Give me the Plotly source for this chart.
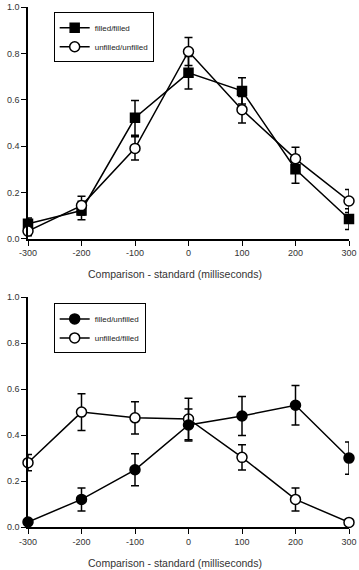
import plotly.graph_objects as go

x_vals = [-300, -200, -100, 0, 100, 200, 300]

# Top panel
ff_y = [0.065, 0.122, 0.522, 0.716, 0.638, 0.30, 0.085]
ff_err = [0.025, 0.04, 0.075, 0.07, 0.057, 0.06, 0.045]
uu_y = [0.033, 0.143, 0.39, 0.808, 0.557, 0.345, 0.163]
uu_err = [0.02, 0.04, 0.05, 0.06, 0.057, 0.05, 0.05]

# Bottom panel
fu_y = [0.022, 0.12, 0.249, 0.444, 0.483, 0.53, 0.30]
fu_err = [0.01, 0.05, 0.07, 0.07, 0.085, 0.086, 0.07]
uf_y = [0.28, 0.50, 0.475, 0.47, 0.303, 0.12, 0.02]
uf_err = [0.035, 0.08, 0.07, 0.09, 0.055, 0.05, 0.01]

x_title = "Comparison - standard (milliseconds)"
font_family = "Liberation Sans, Arial, sans-serif"

fig = go.Figure()

def add(name, xs, ys, errs, symbol, fill, xa, ya, legend, rank):
    fig.add_trace(go.Scatter(
        x=xs, y=ys, name=name, mode="lines+markers",
        xaxis=xa, yaxis=ya, legend=legend, legendrank=rank,
        line=dict(color="black", width=1.5),
        marker=dict(symbol=symbol, size=10 if symbol == "circle" else 9,
                    color=fill, line=dict(color="black", width=1.5)),
        error_y=dict(type="data", array=errs, visible=True,
                     color="black", thickness=1.5, width=4),
        cliponaxis=False,
    ))

add("filled/filled", x_vals, ff_y, ff_err, "square", "black", "x", "y", "legend", 1)
add("unfilled/unfilled", x_vals, uu_y, uu_err, "circle", "white", "x", "y", "legend", 2)
add("unfilled/filled", x_vals, uf_y, uf_err, "circle", "white", "x2", "y2", "legend2", 2)
add("filled/unfilled", x_vals, fu_y, fu_err, "circle", "black", "x2", "y2", "legend2", 1)

axis_common = dict(showgrid=False, zeroline=False, showline=True, linecolor="black",
                   linewidth=1.5, ticks="outside", ticklen=5, tickwidth=1.2,
                   tickcolor="black", tickfont=dict(size=9, color="#333", family=font_family))

xcommon = dict(axis_common, range=[-300, 300], tickvals=x_vals,
               ticktext=[str(v) for v in x_vals])
ycommon = dict(axis_common, range=[0, 1], tickvals=[0, 0.2, 0.4, 0.6, 0.8, 1.0],
               tickformat=".1f")

legend_common = dict(bgcolor="white", bordercolor="black", borderwidth=1,
                     font=dict(size=8, color="#222", family=font_family),
                     xanchor="left", yanchor="top", itemwidth=30,
                     traceorder="normal")

fig.update_layout(
    width=359, height=570,
    margin=dict(l=28, r=9, t=2, b=43),
    paper_bgcolor="white", plot_bgcolor="white",
    showlegend=True,
    xaxis=dict(xcommon, anchor="y", domain=[0, 1]),
    yaxis=dict(ycommon, anchor="x", domain=[0.5543, 1.0]),
    xaxis2=dict(xcommon, anchor="y2", domain=[0, 1]),
    yaxis2=dict(ycommon, anchor="x2", domain=[0, 0.4419]),
    legend=dict(legend_common, x=0.08, y=0.99),
    legend2=dict(legend_common, x=0.08, y=0.43),
    annotations=[
        dict(text=x_title, xref="paper", yref="paper", x=0.4565, y=0.4857,
             showarrow=False, xanchor="center", yanchor="middle",
             font=dict(size=10.5, color="#333", family=font_family)),
        dict(text=x_title, xref="paper", yref="paper", x=0.4565, y=-0.0686,
             showarrow=False, xanchor="center", yanchor="middle",
             font=dict(size=10.5, color="#333", family=font_family)),
    ],
)

fig.write_html("out.html")
